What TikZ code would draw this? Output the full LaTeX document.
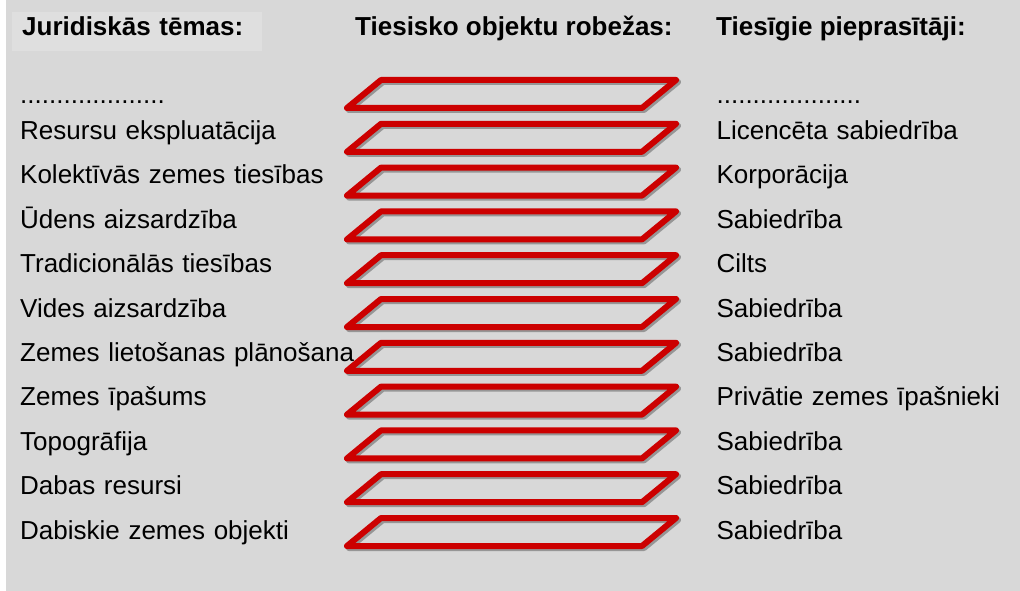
\documentclass[tikz,border=0pt]{standalone}
\usepackage{fontspec}
\setmainfont{Liberation Sans}
\usepackage{tikz}
\usetikzlibrary{positioning}

\definecolor{fonapelecis}{RGB}{216,216,216}
\definecolor{lodzins}{RGB}{223,223,223}
\definecolor{robsarkans}{RGB}{204,0,0}
\definecolor{enaspelecis}{RGB}{150,150,150}

\begin{document}
\begin{tikzpicture}[x=1pt,y=-1pt,
        virsr/.style={font=\fontsize{26}{30}\selectfont\bfseries,anchor=base west,
          inner xsep=10pt,inner ysep=0pt,text height=24pt,text depth=15pt},
        rinda/.style={font=\fontsize{26}{30}\selectfont,inner sep=0pt,
          text height=18pt,text depth=6pt,text width=340pt,align=left},
        prasiba/.style={rinda,text width=290pt},
        robeza/.pic={
          \draw[line width=6pt,line join=round,enaspelecis,shift={(2,2)}]
            (-130.5,-14) -- (164.5,-14) -- (130.5,14) -- (-164.5,14) -- cycle;
          \draw[line width=6pt,line join=round,robsarkans]
            (-130.5,-14) -- (164.5,-14) -- (130.5,14) -- (-164.5,14) -- cycle;
        }]

  \useasboundingbox (0,0) rectangle (1020,591);
  \fill[white] (0,0) rectangle (6,591);
  \fill[fonapelecis] (6,0) rectangle (1020,591);

  % virsraksti
  \node[virsr,fill=lodzins,text width=230pt] (juridiskas) at (12,36) {Juridiskās tēmas:};
  \node[virsr] (robezas) at (345,36) {Tiesisko objektu robežas:};
  \node[virsr] (prasitaji) at (706,36) {Tiesīgie pieprasītāji:};

  % robezas
  \path (511.5,94) pic {robeza}
        (511.5,137.8) pic {robeza}
        (511.5,181.6) pic {robeza}
        (511.5,225.4) pic {robeza}
        (511.5,269.2) pic {robeza}
        (511.5,313) pic {robeza}
        (511.5,356.8) pic {robeza}
        (511.5,400.6) pic {robeza}
        (511.5,444.4) pic {robeza}
        (511.5,488.2) pic {robeza}
        (511.5,532) pic {robeza};

  % temas
  \node[rinda,anchor=base west] (tema0) at (20,104) {....................};
  \node[rinda] (tema1) [below=11pt of tema0] {Resursu ekspluatācija};
  \node[rinda] (tema2) [below=20pt of tema1] {Kolektīvās zemes tiesības};
  \node[rinda] (tema3) [below=20pt of tema2] {Ūdens aizsardzība};
  \node[rinda] (tema4) [below=20pt of tema3] {Tradicionālās tiesības};
  \node[rinda] (tema5) [below=20pt of tema4] {Vides aizsardzība};
  \node[rinda] (tema6) [below=20pt of tema5] {Zemes lietošanas plānošana};
  \node[rinda] (tema7) [below=20pt of tema6] {Zemes īpašums};
  \node[rinda] (tema8) [below=20pt of tema7] {Topogrāfija};
  \node[rinda] (tema9) [below=20pt of tema8] {Dabas resursi};
  \node[rinda] (tema10) [below=20pt of tema9] {Dabiskie zemes objekti};

  % pieprasitaji
  \node[prasiba] (prasit0) [right=356pt of tema0] {....................};
  \node[prasiba] (prasit1) [right=356pt of tema1] {Licencēta sabiedrība};
  \node[prasiba] (prasit2) [right=356pt of tema2] {Korporācija};
  \node[prasiba] (prasit3) [right=356pt of tema3] {Sabiedrība};
  \node[prasiba] (prasit4) [right=356pt of tema4] {Cilts};
  \node[prasiba] (prasit5) [right=356pt of tema5] {Sabiedrība};
  \node[prasiba] (prasit6) [right=356pt of tema6] {Sabiedrība};
  \node[prasiba] (prasit7) [right=356pt of tema7] {Privātie zemes īpašnieki};
  \node[prasiba] (prasit8) [right=356pt of tema8] {Sabiedrība};
  \node[prasiba] (prasit9) [right=356pt of tema9] {Sabiedrība};
  \node[prasiba] (prasit10) [right=356pt of tema10] {Sabiedrība};

\end{tikzpicture}
\end{document}
